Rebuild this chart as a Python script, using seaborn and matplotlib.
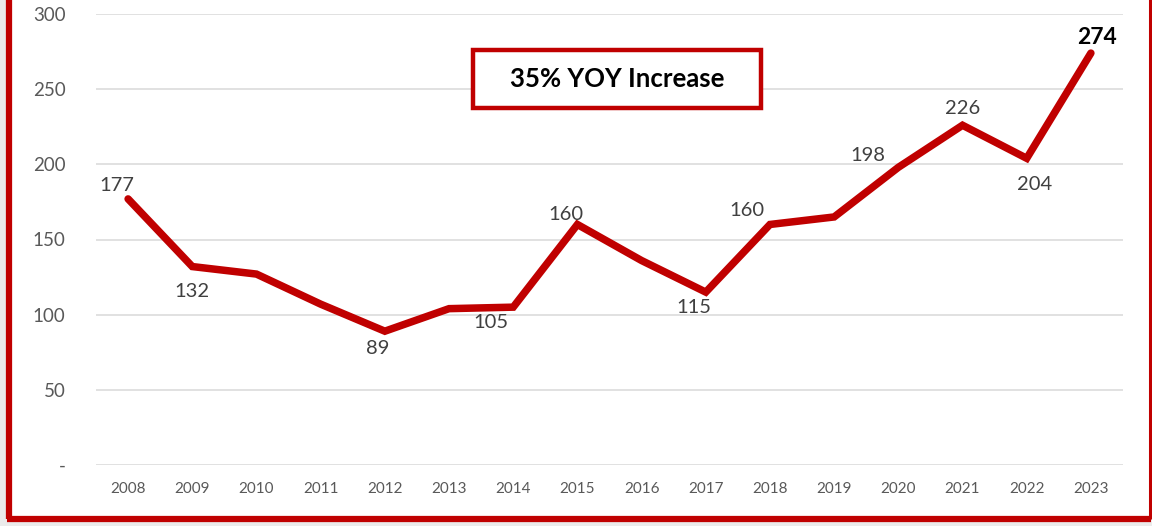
import matplotlib
matplotlib.use("Agg")
import matplotlib.pyplot as plt
from matplotlib.patches import Rectangle
from matplotlib.lines import Line2D
import pandas as pd
import seaborn as sns

# data
years = [str(y) for y in range(2008, 2024)]
values = [177, 132, 127, 107, 89, 104, 105, 160, 136, 115, 160, 165, 198, 226, 204, 274]
labelled = [0, 1, 4, 6, 7, 9, 10, 12, 13, 14, 15]
y_ticks = [0, 50, 100, 150, 200, 250, 300]
y_tick_labels = ["-", "50", "100", "150", "200", "250", "300"]
note = "35% YOY Increase"

# label offsets from the point, in pixels (dx, dy; positive dy = down)
label_offset = {0: (-11, -13), 1: (0, 25), 4: (-7, 17), 6: (-22, 15), 7: (-11, -10),
                9: (-12, 15), 10: (-23, -14), 12: (-30, -12), 13: (0, -17),
                14: (8, 26), 15: (6, -16)}

red = "#C00000"
df = pd.DataFrame({"Year": years, "Value": values})

sns.set_style("white")
plt.rcParams["font.family"] = ["Lato", "DejaVu Sans"]

fig = plt.figure(figsize=(11.52, 5.26), dpi=100, facecolor="#EBEBEB")
W, H = 1152, 526

# white card with the red frame (top runs off the image)
fig.patches.append(Rectangle((9 / W, 1 - 517 / H), (1149.5 - 9) / W, 517 / H + 0.05,
                             transform=fig.transFigure, facecolor="white", edgecolor="none", zorder=-5))
fig.lines.append(Line2D([9 / W, 9 / W], [1 - 519 / H, 1.05], transform=fig.transFigure,
                        color=red, lw=4.5, solid_capstyle="butt"))
fig.lines.append(Line2D([7 / W, 1151 / W], [1 - 519 / H, 1 - 519 / H], transform=fig.transFigure,
                        color=red, lw=4.5, solid_capstyle="butt"))
fig.lines.append(Line2D([1149.5 / W, 1149.5 / W], [1 - 519 / H, 1.05], transform=fig.transFigure,
                        color=red, lw=2.2, solid_capstyle="butt"))

ax = fig.add_axes([96 / W, 1 - 465 / H, (1123 - 96) / W, (465 - 14) / H])
ax.set_facecolor("none")

sns.lineplot(data=df, x="Year", y="Value", ax=ax, color=red, lw=5.4, sort=False,
             solid_capstyle="round", solid_joinstyle="miter", zorder=3)

ax.set_xlim(-0.5, len(years) - 0.5)
ax.set_ylim(0, 300)
ax.set_yticks(y_ticks)
ax.set_yticklabels(y_tick_labels)
ax.yaxis.grid(True, color="#D9D9D9", lw=1.1)
ax.set_axisbelow(True)
for s in ax.spines.values():
    s.set_visible(False)
ax.tick_params(axis="y", length=0, pad=22, labelsize=13.5, labelcolor="#595959")
ax.tick_params(axis="x", length=0, pad=12, labelsize=11, labelcolor="#595959")
ax.set_xlabel("")
ax.set_ylabel("")

for i in labelled:
    v = values[i]
    last = i == len(values) - 1
    dx, dy = label_offset[i]
    ax.annotate(str(v), (i, v), xytext=(dx * 0.72, -dy * 0.72), textcoords="offset points",
                ha="center", va="center",
                fontsize=16.5 if last else 14.5, fontweight="bold" if last else "normal",
                color="black" if last else "#404040", zorder=4)

# callout box
fig.patches.append(Rectangle((473 / W, 1 - 108 / H), (761 - 473) / W, (108 - 50) / H,
                             transform=fig.transFigure, facecolor="white", edgecolor=red,
                             lw=3.2, zorder=5))
fig.text(617 / W, 1 - 79 / H, note, ha="center", va="center", fontsize=18.5,
         fontweight="bold", color="black", zorder=6)

fig.savefig("out.png", dpi=100, facecolor=fig.get_facecolor())
